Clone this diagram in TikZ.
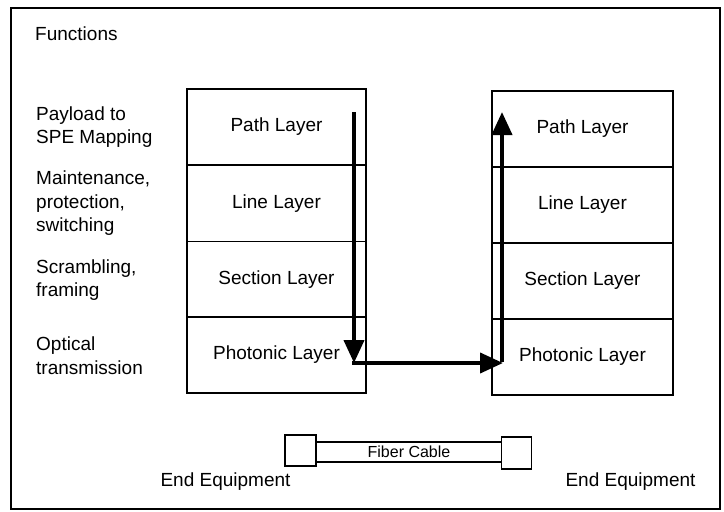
\documentclass[tikz,border=0pt]{standalone}
\usepackage{fontspec}
\setmainfont{Liberation Sans}
\usetikzlibrary{arrows.meta,calc}
\begin{document}
\begin{tikzpicture}[x=1pt,y=-1pt,
  layer/.style={draw,line width=1.8pt,minimum width=179pt,minimum height=76pt,inner sep=0pt,font=\fontsize{19}{21}\selectfont},
  func/.style={anchor=west,align=left,inner sep=0pt,font=\fontsize{19}{23.5}\selectfont},
  label/.style={inner sep=0pt,font=\fontsize{19}{21}\selectfont},
  flow/.style={line width=4pt,-{Triangle[width=20pt,length=23pt]}},
  equip/.style={draw,line width=1.8pt,minimum width=31pt,minimum height=31pt,inner sep=0pt},
  cablebox/.style={draw,line width=1.8pt,minimum width=186pt,minimum height=20pt,inner sep=0pt,font=\fontsize{16}{17}\selectfont}]
\useasboundingbox (0,0) rectangle (724,512);
\draw[line width=1.6pt] (11,8) rectangle (720,509);
\node[func] (fn) at (35,34) {Functions};
% left stack
\node[layer] (L1) at (276.5,127) {Path Layer};
\node[layer] (L2) at (276.5,203.5) {Line Layer};
\node[layer] (L3) at (276.5,279.5) {Section Layer};
\node[layer] (L4) at (276.5,355) {Photonic Layer};
% right stack
\node[layer,minimum width=181pt] (R1) at (582.5,129) {Path Layer};
\node[layer,minimum width=181pt] (R2) at (582.5,205) {Line Layer};
\node[layer,minimum width=181pt] (R3) at (582.5,281) {Section Layer};
\node[layer,minimum width=181pt] (R4) at (582.5,357) {Photonic Layer};
% functions
\node[func] (f1) at (36,127) {Payload to\\SPE Mapping};
\node[func] (f2) at (36,203.5) {Maintenance,\\protection,\\switching};
\node[func] (f3) at (36,280) {Scrambling,\\framing};
\node[func] (f4) at (36,355.5) {Optical\\transmission};
% arrows
\coordinate (d0) at (354,112);
\coordinate (d1) at (354,363);
\coordinate (h0) at (352,363);
\coordinate (h1) at (503,363);
\coordinate (u0) at (502,362);
\coordinate (u1) at (502,112);
\draw[flow] (d0) -- (d1);
\draw[flow] (h0) -- (h1);
\draw[flow] (u0) -- (u1);
% fiber cable
\node[equip] (E1) at (300.5,450.5) {};
\node[equip,minimum width=30pt,minimum height=32pt] (E2) at (516.5,453) {};
\node[cablebox,minimum width=185pt] (C) at (409,452) {Fiber Cable};
\node[label] (t1) at (225.5,482) {End Equipment};
\node[label] (t2) at (630.5,482) {End Equipment};
\end{tikzpicture}
\end{document}
